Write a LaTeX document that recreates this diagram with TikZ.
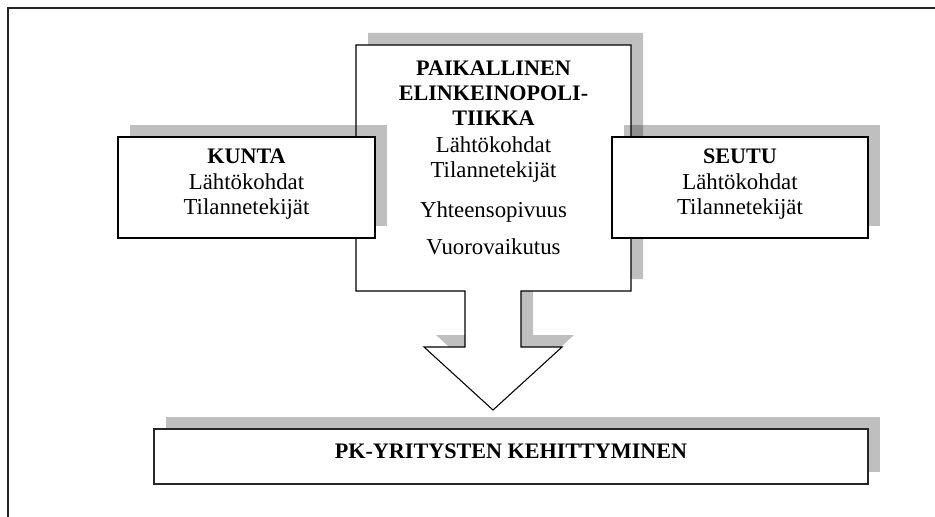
\documentclass[tikz,border=0pt]{standalone}
\usepackage{fontspec}
\setmainfont{Liberation Serif}
\usetikzlibrary{shadows}

\tikzset{
  txt/.style={anchor=base, inner sep=0pt, outer sep=0pt,
    font=\fontsize{17.1}{20.5}\selectfont},
  hd/.style={txt, font=\fontsize{16.6}{19.9}\selectfont\bfseries},
  shade box/.style={fill=black, opacity=0.25},
  boxshadow/.style={drop shadow={shadow xshift=9pt, shadow yshift=9pt,
    fill=black, opacity=0.25}},
  box/.style={draw=black, line width=0.8pt, fill=white, inner sep=0pt,
    outer sep=0pt, boxshadow},
  wide box/.style={box, draw=black!85, line width=1.3pt},
  frame/.style={draw=black!85, line width=1.4pt},
  outline/.style={draw=black, line width=0.8pt, fill=white},
}

\begin{document}
\begin{tikzpicture}[x=0.75pt, y=-0.75pt]
  \useasboundingbox (0,0) rectangle (935,517);

  % open frame: top and left edges only
  \draw[frame] (8,517) -- (8,8) -- (935,8);

  % central block with the downward arrow
  \def\arrowbody{(356,45) -- (631,45) -- (631,291) -- (521,291) -- (521,347)
    -- (562,347) -- (493,410) -- (424,347) -- (465,347) -- (465,291)
    -- (356,291) -- cycle}
  \fill[shade box, shift={(12,-12)}] \arrowbody;
  \path[outline] \arrowbody;

  \node[hd]  (p1) at (493.5,75)  {PAIKALLINEN};
  \node[hd]  (p2) at (493.5,100) {ELINKEINOPOLI-};
  \node[hd]  (p3) at (493.5,125) {TIIKKA};
  \node[txt] (p4) at (493.5,152) {Lähtökohdat};
  \node[txt] (p5) at (493.5,177) {Tilannetekijät};
  \node[txt] (p6) at (493.5,217) {Yhteensopivuus};
  \node[txt] (p7) at (493.5,254) {Vuorovaikutus};

  % side boxes
  \node[box, minimum width=192.75pt, minimum height=75.75pt] (kunta) at (246.5,187.5) {};
  \node[hd]  (k1) at (246.5,163) {KUNTA};
  \node[txt] (k2) at (246.5,189) {Lähtökohdat};
  \node[txt] (k3) at (246.5,214) {Tilannetekijät};

  \node[box, minimum width=192pt, minimum height=75.75pt] (seutu) at (740,187.5) {};
  \node[hd]  (s1) at (740,163) {SEUTU};
  \node[txt] (s2) at (740,189) {Lähtökohdat};
  \node[txt] (s3) at (740,214) {Tilannetekijät};

  % result box
  \node[wide box, minimum width=535.5pt, minimum height=41.25pt] (pk) at (511,456.5) {};
  \node[hd] (pkt) at (511,458) {PK-YRITYSTEN KEHITTYMINEN};
\end{tikzpicture}
\end{document}
